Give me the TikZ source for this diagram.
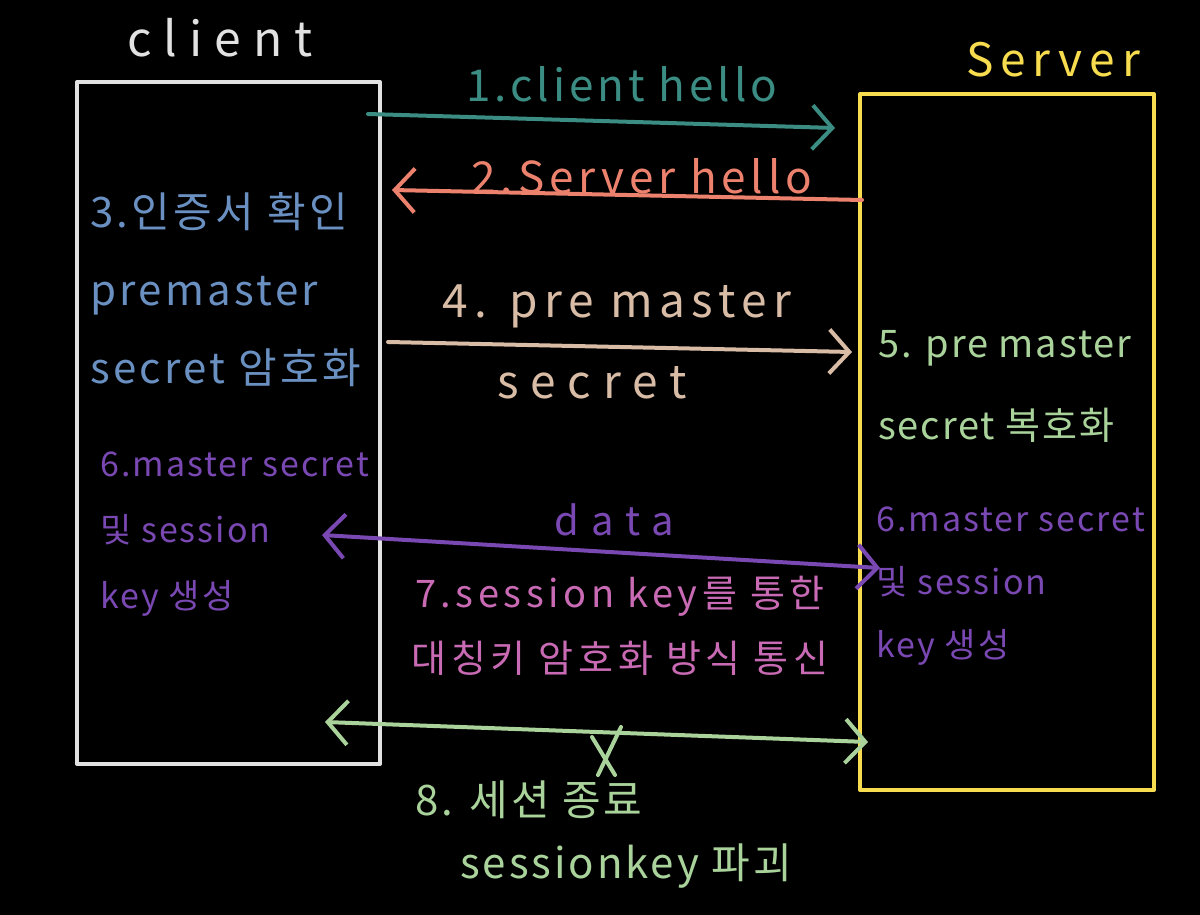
\documentclass[tikz,border=0pt]{standalone}
\usepackage{fontspec}
\setmainfont{Noto Sans CJK KR}
\usetikzlibrary{arrows.meta}

\definecolor{clientgray}{HTML}{E2E2E2}
\definecolor{serveryellow}{HTML}{F6DC4E}
\definecolor{helloteal}{HTML}{3B8C82}
\definecolor{hellosalmon}{HTML}{EC826E}
\definecolor{certblue}{HTML}{6A90C2}
\definecolor{pretan}{HTML}{D9BCA6}
\definecolor{endgreen}{HTML}{A9D39B}
\definecolor{keypurple}{HTML}{7A48B2}
\definecolor{datapink}{HTML}{C96AB4}

\begin{document}
\begin{tikzpicture}[x=1pt, y=-1pt,
    pen/.style={line width=4pt, line cap=round, line join=round},
    msgarrow/.style={pen, -{Straight Barb[length=20pt, width=44pt]}},
    twoway/.style={pen, {Straight Barb[length=20pt, width=44pt]}-{Straight Barb[length=20pt, width=44pt]}},
    hand/.style args={#1/#2/#3}{inner sep=0pt, align=left,
      font=\fontsize{#1}{#2}\selectfont\addfontfeature{LetterSpace=#3}}]
    %%%%% START %%%%%

    \fill[black] (0,0) rectangle (1200,915);
    \useasboundingbox (0,0) rectangle (1200,915);

    % the two parties
    \node[draw=clientgray, pen, anchor=north west, minimum width=303pt, minimum height=682pt] (client) at (75,80) {};
    \node[draw=serveryellow, pen, anchor=north west, minimum width=294pt, minimum height=696pt] (server) at (858,92) {};
    \node[hand=48/56/25, clientgray] (clientlabel) at (220,38) {client};
    \node[hand=46/54/15, serveryellow] (serverlabel) at (1053,60) {Server};

    % handshake
    \coordinate (hello1start) at (368,114);
    \coordinate (hello1end) at (835,128);
    \draw[msgarrow, helloteal] (hello1start) -- (hello1end);
    \node[hand=44/52/9, helloteal] (hello1) at (622,84) {1.client hello};

    \coordinate (hello2start) at (862,200);
    \coordinate (hello2end) at (392,190);
    \draw[msgarrow, hellosalmon] (hello2start) -- (hello2end);
    \node[hand=44/52/11, hellosalmon] (hello2) at (642,176) {2.Server hello};

    \node[hand=42/78/8, certblue, anchor=north west] (cert) at (90,192) {3.인증서 확인\\premaster\\secret 암호화};

    \coordinate (prestart) at (388,342);
    \coordinate (preend) at (852,352);
    \draw[msgarrow, pretan] (prestart) -- (preend);
    \node[hand=46/54/14, pretan] (pretop) at (617,306) {4. pre master};
    \node[hand=46/54/26, pretan] (prebottom) at (592,383) {secret};

    \node[hand=38/82/5, endgreen, anchor=north west] (decrypt) at (878,330) {5. pre master\\secret 복호화};

    % keys on both sides
    \node[hand=34/66/6, keypurple, anchor=north west] (clientkeys) at (100,452) {6.master secret\\및 session\\key 생성};
    \node[hand=34/63/6, keypurple, anchor=north west] (serverkeys) at (876,507) {6.master secret\\및 session\\key 생성};

    % symmetric traffic
    \coordinate (dataleft) at (322,535);
    \coordinate (dataright) at (880,568);
    \draw[twoway, keypurple] (dataleft) -- (dataright);
    \node[hand=40/48/30, keypurple] (data) at (614,520) {data};
    \node[hand=38/65/12, datapink, align=center, anchor=north] (symmetric) at (620,576) {7.session key를 통한\\대칭키 암호화 방식 통신};

    % session end
    \coordinate (endleft) at (325,722);
    \coordinate (endright) at (868,742);
    \draw[twoway, endgreen] (endleft) -- (endright);
    \draw[pen, endgreen] (621,727) -- (598,775);
    \draw[pen, endgreen] (592,737) -- (615,775);
    \node[hand=42/50/7, endgreen, anchor=west] (endtop) at (415,800) {8. 세션 종료};
    \node[hand=42/50/7, endgreen, anchor=west] (endbottom) at (460,866) {sessionkey 파괴};

    %%%%% END %%%%%
\end{tikzpicture}
\end{document}
